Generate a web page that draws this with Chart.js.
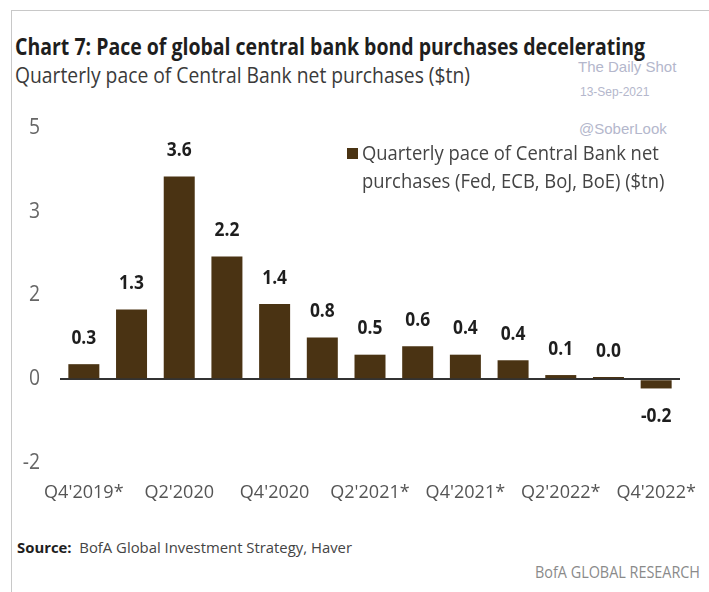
<!DOCTYPE html>
<html>
<head>
<meta charset="utf-8">
<script src="https://cdn.jsdelivr.net/npm/chart.js@4/dist/chart.umd.min.js"></script>
<style>
  html, body { margin: 0; padding: 0; background: #fff; }
  body { width: 709px; height: 592px; position: relative; overflow: hidden; font-family: 'Open Sans', sans-serif; }
  .frame { position: absolute; left: 11px; top: 10px; width: 720px; height: 600px; border-left: 1px solid #c8c8c8; border-top: 1px solid #c8c8c8; }
  .txt { position: absolute; white-space: nowrap; transform-origin: 0 0; }
  #title { left: 15px; top: 29px; font-size: 24px; font-weight: 700; color: #1e1e1e; }
  #subtitle { left: 15px; top: 61px; font-size: 21px; font-weight: 400; color: #3a3a3a; }
  .wm { position: absolute; font-family: 'Liberation Sans', Arial, sans-serif; color: #b4b7cc; white-space: nowrap; }
  #source { left: 17px; top: 537px; font-size: 15px; color: #444; }
  #source b { color: #1e1e1e; }
  #bofa { left: 535px; top: 561px; font-size: 16px; color: #8a8a8a; }
  #wrap { position: absolute; left: 0; top: 100px; width: 709px; height: 445px; }
</style>
</head>
<body>
<div class="frame"></div>
<div class="txt" id="title" data-w="630">Chart 7: Pace of global central bank bond purchases decelerating</div>
<div class="txt" id="subtitle" data-w="455">Quarterly pace of Central Bank net purchases ($tn)</div>
<div class="wm" style="left:578px;top:58px;font-size:15px;">The Daily Shot</div>
<div class="wm" style="left:580px;top:85px;font-size:12px;">13-Sep-2021</div>
<div class="wm" style="left:579px;top:120px;font-size:15px;">@SoberLook</div>
<div class="txt" id="source" data-w="335"><b>Source:</b>&nbsp; BofA Global Investment Strategy, Haver</div>
<div class="txt" id="bofa" data-w="165">BofA GLOBAL RESEARCH</div>
<div id="wrap"><canvas id="c"></canvas></div>
<script>
// ---- data ----
const categories = ["Q4'2019*", "Q1'2020", "Q2'2020", "Q3'2020", "Q4'2020", "Q1'2021", "Q2'2021*", "Q3'2021*", "Q4'2021*", "Q1'2022*", "Q2'2022*", "Q3'2022*", "Q4'2022*"];
const purchases = [0.27, 1.25, 3.63, 2.2, 1.35, 0.75, 0.44, 0.59, 0.44, 0.34, 0.075, 0.04, -0.165];
const valueLabels = ["0.3", "1.3", "3.6", "2.2", "1.4", "0.8", "0.5", "0.6", "0.4", "0.4", "0.1", "0.0", "-0.2"];
const yTickValues = [-1.5, 0, 1.5, 3, 4.5];
const yTickLabels = ["-2", "0", "2", "3", "5"];
const seriesName = ["Quarterly pace of Central Bank net", "purchases (Fed, ECB, BoJ, BoE) ($tn)"];

// condense HTML texts to their widths
document.querySelectorAll('.txt').forEach(el => {
  const w = +el.dataset.w; const r = el.getBoundingClientRect().width;
  el.style.transform = 'scaleX(' + (w / r) + ')';
});

const FONT = "'Open Sans', sans-serif";
const BAR = '#4a3313';

function condensedText(ctx, text, x, y, align, sx) {
  const w = ctx.measureText(text).width * sx;
  let left = x;
  if (align === 'center') left = x - w / 2;
  else if (align === 'right') left = x - w;
  ctx.save();
  ctx.translate(left, y);
  ctx.scale(sx, 1);
  ctx.textAlign = 'left';
  ctx.fillText(text, 0, 0);
  ctx.restore();
}

const textPlugin = {
  id: 'texts',
  afterDraw(chart) {
    const ctx = chart.ctx;
    const xs = chart.scales.x, ys = chart.scales.y;
    const meta = chart.getDatasetMeta(0);
    ctx.save();
    ctx.textBaseline = 'middle';
    // data labels
    ctx.fillStyle = '#1e1e1e';
    ctx.font = "bold 20px " + FONT;
    meta.data.forEach((bar, i) => {
      const y = purchases[i] >= 0 ? bar.y - 26 : bar.y + 28;
      condensedText(ctx, valueLabels[i], bar.x, y, 'center', 0.87);
    });
    // y tick labels
    ctx.fillStyle = '#666';
    ctx.font = "21px " + FONT;
    yTickValues.forEach((v, i) => {
      condensedText(ctx, yTickLabels[i], 40, ys.getPixelForValue(v), 'right', 0.92);
    });
    // x tick labels
    ctx.fillStyle = '#555';
    ctx.font = "19px " + FONT;
    categories.forEach((c, i) => {
      if (i % 2 === 0) condensedText(ctx, c, xs.getPixelForValue(i), ys.bottom + 30, 'center', 0.95);
    });
    // legend
    ctx.fillStyle = BAR;
    ctx.fillRect(347, 48, 11, 11);
    ctx.fillStyle = '#444';
    ctx.font = "20px " + FONT;
    condensedText(ctx, seriesName[0], 362, 54, 'left', 0.92);
    condensedText(ctx, seriesName[1], 362, 82, 'left', 0.92);
    ctx.restore();
  }
};

new Chart(document.getElementById('c'), {
  type: 'bar',
  data: {
    labels: categories,
    datasets: [{
      label: seriesName.join(' '),
      data: purchases,
      backgroundColor: BAR,
      barPercentage: 0.65,
      categoryPercentage: 1.0
    }]
  },
  options: {
    responsive: true,
    maintainAspectRatio: false,
    animation: false,
    layout: { padding: { top: 28, right: 29, bottom: 32, left: 0 } },
    plugins: { legend: { display: false }, tooltip: { enabled: false } },
    scales: {
      x: {
        grid: { display: false },
        border: { display: false },
        afterFit: s => { s.height = 50; },
        ticks: { display: false }
      },
      y: {
        min: -1.5, max: 4.5,
        afterFit: s => { s.width = 60; },
        afterBuildTicks: s => { s.ticks = yTickValues.map(v => ({ value: v })); },
        grid: {
          drawTicks: false,
          color: c => (c.tick && c.tick.value === 0) ? '#333' : 'rgba(0,0,0,0)',
          lineWidth: 2
        },
        border: { display: false },
        ticks: { display: false }
      }
    }
  },
  plugins: [textPlugin]
});
</script>
</body>
</html>
